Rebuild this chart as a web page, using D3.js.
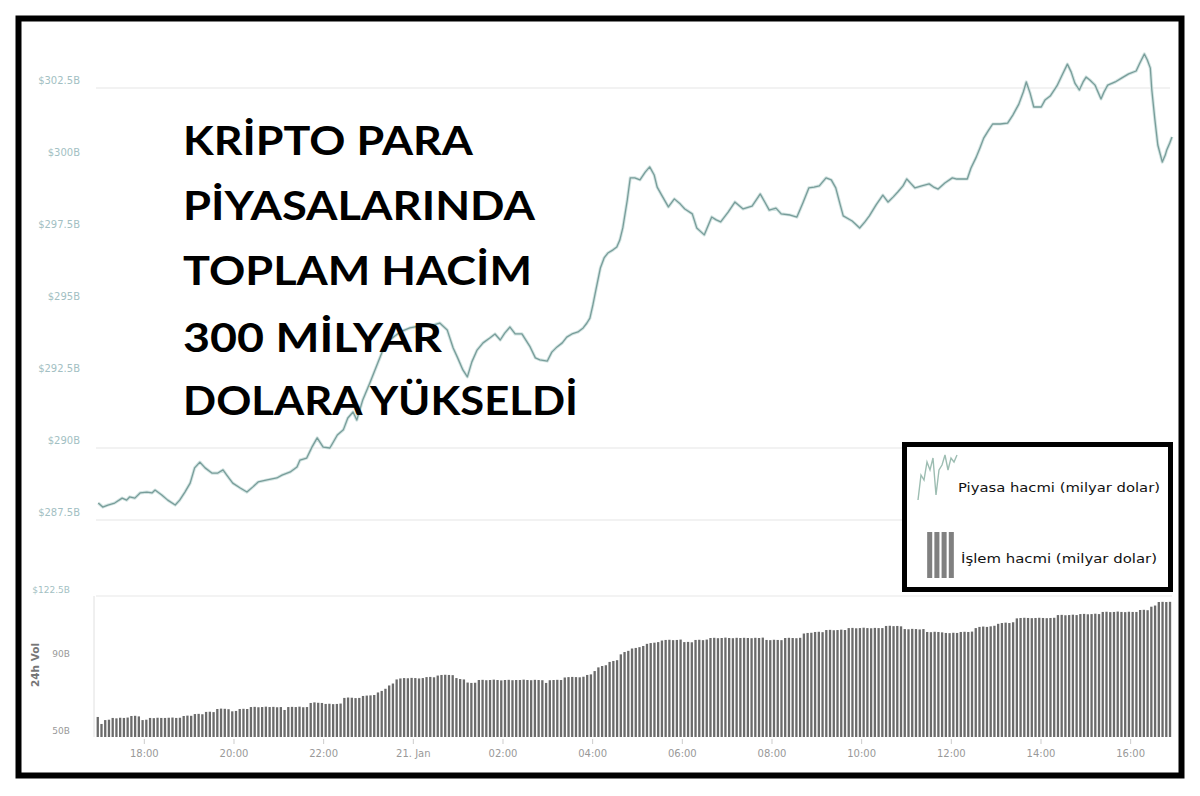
<!DOCTYPE html>
<html><head><meta charset="utf-8">
<script src="https://cdn.jsdelivr.net/npm/d3@7"></script>
<style>html,body{margin:0;padding:0;background:#fff;} svg{display:block;}</style>
</head><body><svg id="c" width="1200" height="796"></svg>
<script>
// ---------- data ----------
const titleLines = ["KRİPTO PARA","PİYASALARINDA","TOPLAM HACİM","300 MİLYAR","DOLARA YÜKSELDİ"];
const titleWidths = [290, 352, 349, 259, 395];
const capTicks = [287.5, 290, 292.5, 295, 297.5, 300, 302.5];
const capTickLabels = ["$287.5B","$290B","$292.5B","$295B","$297.5B","$300B","$302.5B"];
const capGridTicks = [287.5, 290, 302.5];
const volTicks = [50, 90, 122.5];
const volTickLabels = ["50B","90B","$122.5B"];
const timeStart = "20 16:56", timeEnd = "21 16:56";
const volumeLabel = "24h Vol";
const legendLabels = ["Piyasa hacmi (milyar dolar)","İşlem hacmi (milyar dolar)"];
const legendSpark = [0, 25, 20, 38, 30, 42, 5, 30, 35, 45, 30, 42, 38, 45];
const legendBars = [1, 1, 1, 1];

const marketCap = [
["20 16:59",288.09],["20 17:05",287.95],["20 17:12",288.02],["20 17:21",288.09],["20 17:31",288.26],
["20 17:37",288.19],["20 17:41",288.30],["20 17:48",288.26],["20 17:55",288.44],["20 18:04",288.47],
["20 18:11",288.44],["20 18:15",288.54],["20 18:24",288.37],["20 18:32",288.19],["20 18:42",288.02],
["20 18:48",288.19],["20 18:55",288.47],["20 19:02",288.78],["20 19:08",289.31],["20 19:15",289.51],
["20 19:22",289.31],["20 19:31",289.13],["20 19:39",289.13],["20 19:46",289.24],["20 19:51",289.06],
["20 19:59",288.78],["20 20:09",288.61],["20 20:18",288.47],["20 20:26",288.65],["20 20:33",288.82],
["20 20:45",288.89],["20 20:58",288.96],["20 21:05",289.06],["20 21:16",289.17],["20 21:25",289.34],
["20 21:29",289.58],["20 21:38",289.65],["20 21:45",290.03],["20 21:52",290.35],["20 22:00",290.03],
["20 22:09",290.00],["20 22:19",290.45],["20 22:27",290.63],["20 22:33",291.04],["20 22:40",291.25],
["20 22:45",290.97],["20 22:53",291.67],["20 23:03",292.29],["20 23:12",292.88],["20 23:20",293.40],
["20 23:29",293.75],["20 23:43",294.03],["20 23:56",294.17],["21 00:10",294.24],["21 00:27",294.27],
["21 00:36",294.34],["21 00:46",294.10],["21 00:54",293.47],["21 01:00",293.13],["21 01:07",292.71],
["21 01:13",292.47],["21 01:19",292.99],["21 01:26",293.40],["21 01:34",293.65],["21 01:43",293.82],
["21 01:50",293.96],["21 01:57",293.75],["21 02:03",293.99],["21 02:10",294.20],["21 02:17",293.96],
["21 02:26",293.96],["21 02:37",293.51],["21 02:44",293.13],["21 02:50",293.06],["21 03:00",293.02],
["21 03:06",293.33],["21 03:13",293.51],["21 03:20",293.65],["21 03:26",293.85],["21 03:33",293.96],
["21 03:41",294.03],["21 03:48",294.17],["21 03:53",294.34],["21 03:57",294.51],["21 04:01",294.97],
["21 04:05",295.49],["21 04:11",296.25],["21 04:16",296.60],["21 04:21",296.77],["21 04:28",296.88],
["21 04:33",296.98],["21 04:37",297.22],["21 04:41",297.64],["21 04:47",298.61],["21 04:51",299.38],
["21 04:57",299.38],["21 05:04",299.31],["21 05:11",299.58],["21 05:17",299.76],["21 05:23",299.48],
["21 05:27",299.06],["21 05:33",298.78],["21 05:42",298.37],["21 05:50",298.65],["21 05:58",298.47],
["21 06:04",298.30],["21 06:14",298.13],["21 06:20",297.64],["21 06:30",297.40],["21 06:40",298.02],
["21 06:46",297.92],["21 06:52",297.85],["21 07:02",298.19],["21 07:11",298.54],["21 07:22",298.30],
["21 07:34",298.40],["21 07:45",298.82],["21 07:51",298.54],["21 07:57",298.26],["21 08:06",298.33],
["21 08:13",298.13],["21 08:25",298.09],["21 08:34",298.02],["21 08:42",298.51],["21 08:50",299.03],
["21 08:57",299.06],["21 09:04",299.10],["21 09:13",299.38],["21 09:20",299.31],["21 09:26",299.03],
["21 09:32",298.44],["21 09:36",298.06],["21 09:48",297.88],["21 09:58",297.64],["21 10:05",297.85],
["21 10:11",298.06],["21 10:20",298.44],["21 10:29",298.78],["21 10:36",298.54],["21 10:43",298.72],
["21 10:49",298.89],["21 10:56",299.10],["21 11:01",299.34],["21 11:07",299.17],["21 11:12",299.03],
["21 11:21",299.10],["21 11:31",299.17],["21 11:37",299.06],["21 11:43",298.99],["21 11:52",299.20],
["21 12:02",299.38],["21 12:08",299.34],["21 12:15",299.34],["21 12:22",299.34],["21 12:27",299.72],
["21 12:34",300.10],["21 12:39",300.42],["21 12:44",300.76],["21 12:50",301.01],["21 12:56",301.25],
["21 13:06",301.25],["21 13:16",301.28],["21 13:23",301.56],["21 13:31",301.94],["21 13:37",302.36],
["21 13:41",302.71],["21 13:46",302.33],["21 13:51",301.84],["21 14:01",301.84],["21 14:06",302.08],
["21 14:13",302.22],["21 14:22",302.57],["21 14:29",302.95],["21 14:36",303.33],["21 14:41",303.06],
["21 14:46",302.67],["21 14:52",302.43],["21 14:57",302.71],["21 15:01",302.88],["21 15:06",302.78],
["21 15:13",302.60],["21 15:21",302.12],["21 15:25",302.36],["21 15:30",302.60],["21 15:40",302.71],
["21 15:49",302.85],["21 15:58",302.99],["21 16:08",303.09],["21 16:13",303.37],["21 16:19",303.68],
["21 16:23",303.47],["21 16:27",303.19],["21 16:29",302.43],["21 16:33",301.42],["21 16:37",300.52],
["21 16:43",299.93],["21 16:47",300.17],["21 16:49",300.35],["21 16:53",300.59],["21 16:56",300.80]
];

// 5-minute 24h volume bars (billion $)
const volume = [
60.3,56.7,58.7,58.9,59.8,59.6,59.9,59.8,60.0,60.8,60.9,60.6,58.7,58.9,
59.8,59.7,59.9,59.8,59.8,59.9,60.0,59.8,59.9,60.8,61.0,60.9,61.8,61.9,61.7,
62.9,63.0,62.8,64.4,64.6,64.5,64.3,63.2,63.4,64.4,64.5,64.4,
65.4,65.5,65.3,65.4,65.6,65.4,65.5,65.3,65.4,63.9,65.4,65.5,65.4,65.6,65.3,65.4,
67.5,67.8,67.6,67.5,67.0,67.1,66.9,67.0,67.2,70.1,70.3,70.2,70.0,70.1,
71.1,71.3,71.4,71.6,72.9,73.7,74.8,76.5,77.5,
79.6,80.1,80.3,80.2,80.4,80.3,80.1,80.3,80.8,80.9,80.7,81.6,81.9,82.0,81.9,81.8,
80.3,79.8,79.6,78.0,77.8,77.9,
79.3,79.4,79.2,79.3,79.5,79.3,79.1,79.3,79.4,79.2,79.3,79.3,79.5,79.3,79.2,79.4,79.3,79.2,
77.8,79.2,79.3,79.4,79.3,80.6,80.8,80.9,80.8,80.7,81.0,81.9,82.2,83.9,
85.8,86.5,86.9,88.6,89.1,89.5,92.5,93.7,94.3,95.5,95.8,96.2,96.8,97.9,98.3,98.5,98.8,
99.6,99.9,100.0,99.8,99.9,100.1,98.8,98.9,98.7,99.9,100.0,99.8,100.1,
100.9,101.0,100.8,100.9,101.1,100.9,100.8,101.0,100.9,101.0,100.9,100.8,101.0,100.9,101.1,
99.9,99.8,100.0,99.9,99.8,100.9,101.0,100.9,100.8,101.0,
103.2,103.5,103.6,104.0,104.1,103.9,105.0,105.1,104.9,105.0,105.2,105.0,
106.0,106.1,105.9,106.0,106.2,106.0,105.9,106.1,106.0,106.0,
107.1,107.2,107.0,107.1,106.9,105.5,105.4,105.6,105.5,105.3,105.5,
104.0,103.9,104.1,104.0,103.8,103.5,103.4,103.6,103.5,104.0,104.1,104.0,104.2,
106.0,106.6,106.8,106.6,106.9,107.2,108.2,108.6,108.8,108.6,109.0,
111.0,111.2,111.3,111.2,111.1,111.2,111.3,111.2,111.1,111.2,111.3,
112.7,112.8,112.6,112.7,112.9,112.7,113.2,113.3,113.1,113.2,113.4,113.2,
114.3,114.4,114.2,114.3,114.5,114.3,114.2,114.4,114.3,114.3,
115.3,115.4,115.2,117.0,117.6,119.4,119.5,119.4,119.5
];

// ---------- drawing ----------
const parse = d3.timeParse("%Y-%m-%d %H:%M");
const T = s => parse("2020-01-" + s);
const svg = d3.select("#c");
svg.append("rect").attr("width",1200).attr("height",796).attr("fill","#fff");

const plotL = 96, plotR = 1172;
const x = d3.scaleTime().domain([T(timeStart), T(timeEnd)]).range([plotL, plotR]);
const yCap = d3.scaleLinear().domain([287.5, 302.5]).range([520, 88]);
const yVol = d3.scaleLinear().domain([50, 122.5]).range([737, 596]);

// grid for market cap panel
svg.append("g").selectAll("line").data(capGridTicks).join("line")
  .attr("x1", plotL).attr("x2", plotR - 2)
  .attr("y1", d => yCap(d)).attr("y2", d => yCap(d))
  .attr("stroke", "#e6e6e6").attr("stroke-width", 1.2);

// market cap y axis labels
const gy = svg.append("g").attr("transform", `translate(${plotL},0)`)
  .call(d3.axisLeft(yCap).tickValues(capTicks).tickSize(0).tickPadding(16)
    .tickFormat((d,i) => capTickLabels[i]));
gy.select(".domain").remove();
gy.selectAll("text").attr("y", -8).attr("dy", "0.32em")
  .attr("fill", "#a3bfc3").style("font-family", "DejaVu Sans").style("font-size", "10px");

// volume panel frame lines
svg.append("line").attr("x1", plotL).attr("x2", plotR).attr("y1", yVol(122.5)).attr("y2", yVol(122.5))
  .attr("stroke", "#e8e8e8").attr("stroke-width", 1.2);
svg.append("line").attr("x1", plotL - 2).attr("x2", plotL - 2).attr("y1", yVol(122.5)).attr("y2", yVol(50))
  .attr("stroke", "#e0e0e0").attr("stroke-width", 1);

// volume bars
const step = 5;
const barW = (x(d3.timeMinute.offset(T(timeStart), step)) - x(T(timeStart))) * 0.62;
svg.append("g").selectAll("rect").data(volume).join("rect")
  .attr("x", (d,i) => x(d3.timeMinute.offset(T(timeStart), step * i)) + 0.6)
  .attr("width", barW)
  .attr("y", d => yVol(d))
  .attr("height", d => yVol(50) - yVol(d))
  .attr("fill", "#6b6b6b");

// volume axis labels
const gv = svg.append("g").attr("transform", `translate(${plotL},0)`)
  .call(d3.axisLeft(yVol).tickValues(volTicks).tickSize(0).tickPadding(26)
    .tickFormat((d,i) => volTickLabels[i]));
gv.select(".domain").remove();
gv.selectAll("text").attr("y", -6).attr("dy", "0.32em")
  .attr("fill", (d,i) => i === volTicks.length - 1 ? "#a3bfc3" : "#999")
  .style("font-family", "DejaVu Sans").style("font-size", "9px");

svg.append("text").text(volumeLabel)
  .attr("transform", "translate(39,665) rotate(-90)")
  .attr("text-anchor", "middle").attr("fill", "#777")
  .style("font-family", "DejaVu Sans").style("font-size", "10.5px").style("font-weight", "bold");

// x axis
const fmtH = d3.timeFormat("%H:%M"), fmtD = d3.timeFormat("%-d. %b");
const gx = svg.append("g").attr("transform", `translate(0,${yVol(50) + 2})`)
  .call(d3.axisBottom(x).ticks(d3.timeHour.every(2)).tickSize(5).tickPadding(6)
    .tickFormat(d => d.getHours() === 0 ? fmtD(d) : fmtH(d)));
gx.select(".domain").remove();
gx.selectAll("line").attr("stroke", "#ccc");
gx.selectAll("text").attr("fill", "#999")
  .style("font-family", "DejaVu Sans").style("font-size", "10px");

// market cap line
const line = d3.line().x(d => x(T(d[0]))).y(d => yCap(d[1]));
svg.append("path").datum(marketCap).attr("d", line)
  .attr("fill", "none").attr("stroke", "#d3e4e2").attr("stroke-width", 3.2).attr("stroke-linejoin", "round");
svg.append("path").datum(marketCap).attr("d", line)
  .attr("fill", "none").attr("stroke", "#789d9a").attr("stroke-width", 1.3).attr("stroke-linejoin", "round");

// title
const baselines = [155, 220, 285, 352, 415];
svg.append("g").selectAll("text").data(titleLines).join("text")
  .attr("x", 183).attr("y", (d,i) => baselines[i])
  .attr("textLength", (d,i) => titleWidths[i]).attr("lengthAdjust", "spacingAndGlyphs")
  .attr("fill", "#000")
  .style("font-family", "Lato").style("font-weight", "bold").style("font-size", "41px")
  .text(d => d);

// legend
const lg = svg.append("g");
lg.append("rect").attr("x", 904.5).attr("y", 444.5).attr("width", 266).attr("height", 145)
  .attr("fill", "#fff").attr("stroke", "#000").attr("stroke-width", 5);
const sx = d3.scaleLinear().domain([0, legendSpark.length - 1]).range([918, 957]);
const sy = d3.scaleLinear().domain([0, 45]).range([500, 455]);
lg.append("path").datum(legendSpark)
  .attr("d", d3.line().x((d,i) => sx(i)).y(d => sy(d)))
  .attr("fill", "none").attr("stroke", "#9dbdb2").attr("stroke-width", 1.4);
const bx = d3.scaleBand().domain(d3.range(legendBars.length)).range([925, 956]).padding(0.3);
const by = d3.scaleLinear().domain([0, 1]).range([578, 532]);
lg.selectAll("rect.lb").data(legendBars).join("rect").attr("class", "lb")
  .attr("x", (d,i) => bx(i)).attr("width", bx.bandwidth())
  .attr("y", d => by(d)).attr("height", d => by(0) - by(d)).attr("fill", "#808080");
lg.selectAll("text").data(legendLabels).join("text")
  .attr("x", (d,i) => i === 0 ? 958 : 961)
  .attr("y", (d,i) => i === 0 ? 492 : 563)
  .attr("textLength", (d,i) => i === 0 ? 202 : 196).attr("lengthAdjust", "spacingAndGlyphs")
  .attr("fill", "#111")
  .style("font-family", "DejaVu Sans").style("font-size", "13px")
  .text(d => d);

// outer frame
svg.append("rect").attr("x", 18.5).attr("y", 18.5).attr("width", 1163).attr("height", 757)
  .attr("fill", "none").attr("stroke", "#000").attr("stroke-width", 6);
</script>
</body></html>
